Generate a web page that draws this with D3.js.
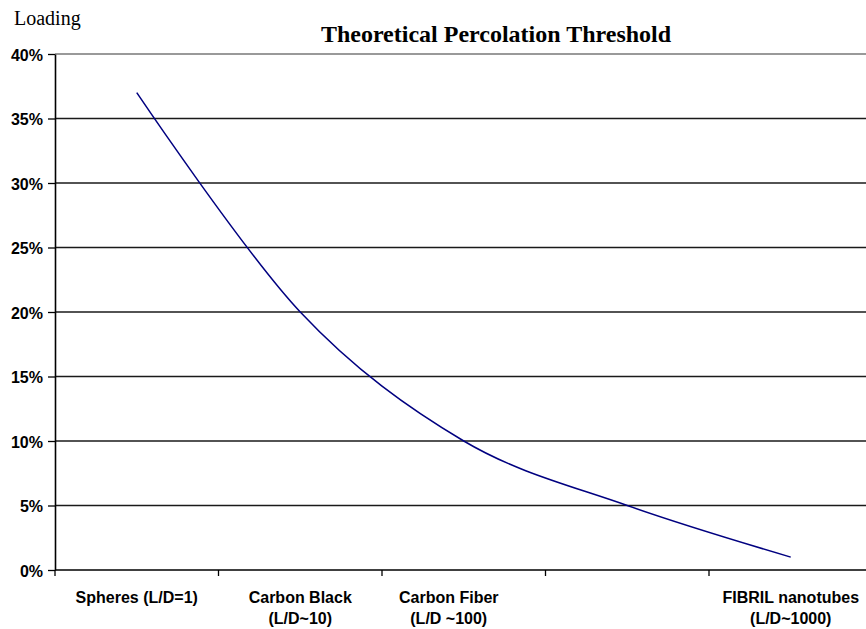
<!DOCTYPE html>
<html>
<head>
<meta charset="utf-8">
<script src="https://cdn.jsdelivr.net/npm/d3@7"></script>
<style>
  body { margin: 0; background: #fff; }
  svg { display: block; }
</style>
</head>
<body>
<div id="chart"></div>
<script>
// Data
const categories = ["Spheres (L/D=1)", "Carbon Black|(L/D~10)", "Carbon Fiber|(L/D ~100)", "", "FIBRIL nanotubes|(L/D~1000)"];
const loading = [0.37, 0.20, 0.10, 0.05, 0.01];
const yTicks = [0, 0.05, 0.10, 0.15, 0.20, 0.25, 0.30, 0.35, 0.40];

// Plot parameters
const w = 866;
const h = 629;
const plotLeft = 55;
const plotTop = 54;
const plotBottom = 570;
const band = 163.5;
const line_color = "#000080";

const svg = d3.select("#chart")
  .append("svg")
  .attr("width", w)
  .attr("height", h);

// Scales
const xScale = d3.scaleBand()
  .domain(d3.range(categories.length))
  .range([plotLeft, plotLeft + band * categories.length]);

const yScale = d3.scaleLinear()
  .domain([0, 0.4])
  .range([plotBottom, plotTop]);

// Gridlines
svg.append("g")
  .selectAll("line")
  .data(yTicks.filter(d => d > 0))
  .enter()
  .append("line")
  .attr("x1", plotLeft)
  .attr("x2", w)
  .attr("y1", d => yScale(d))
  .attr("y2", d => yScale(d))
  .attr("stroke", d => d === 0.4 ? "#777" : "#1a1a1a")
  .attr("stroke-width", 1.6);

// Y axis
const y_axis = d3.axisLeft(yScale)
  .tickValues(yTicks)
  .tickFormat(d3.format(".0%"))
  .tickSize(7)
  .tickSizeOuter(0)
  .tickPadding(5);

const gy = svg.append("g")
  .attr("transform", "translate(" + plotLeft + ",0)")
  .call(y_axis);
gy.select(".domain").attr("stroke", "#000").attr("stroke-width", 1.6);
gy.selectAll(".tick line").attr("stroke", "#000").attr("stroke-width", 1.3);
gy.selectAll("text")
  .attr("font-family", "Liberation Sans, Arial, sans-serif")
  .attr("font-weight", "bold")
  .attr("font-size", 16)
  .attr("dy", "0.4em")
  .attr("fill", "#000");

// X axis (ticks between categories)
const tickPos = d3.range(categories.length + 1).map(i => i < categories.length ? xScale(i) : xScale(i - 1) + xScale.bandwidth());
svg.append("line")
  .attr("x1", plotLeft).attr("x2", w)
  .attr("y1", plotBottom).attr("y2", plotBottom)
  .attr("stroke", "#000").attr("stroke-width", 1.6);
svg.append("g")
  .selectAll("line")
  .data(tickPos)
  .enter()
  .append("line")
  .attr("x1", d => d).attr("x2", d => d)
  .attr("y1", plotBottom).attr("y2", plotBottom + 6)
  .attr("stroke", "#000").attr("stroke-width", 1.3);

const xl = svg.append("g")
  .selectAll("text")
  .data(categories)
  .enter()
  .append("text")
  .attr("x", (d, i) => xScale(i) + xScale.bandwidth() / 2 + (i === 2 ? -15 : 0))
  .attr("y", plotBottom + 33)
  .attr("text-anchor", "middle")
  .attr("font-family", "Liberation Sans, Arial, sans-serif")
  .attr("font-weight", "bold")
  .attr("font-size", 16);
xl.selectAll("tspan")
  .data(d => d.split("|").filter(s => s.length))
  .enter()
  .append("tspan")
  .attr("x", function() { return this.parentNode.getAttribute("x"); })
  .attr("dy", (d, i) => i === 0 ? 0 : 21)
  .text(d => d);

// Line
const line = d3.line()
  .x((d, i) => xScale(i) + xScale.bandwidth() / 2)
  .y(d => yScale(d))
  .curve(d3.curveCardinal);

svg.append("path")
  .datum(loading)
  .attr("d", line)
  .attr("fill", "none")
  .attr("stroke", line_color)
  .attr("stroke-width", 1.5);

// Title & axis label
svg.append("text")
  .attr("x", 496)
  .attr("y", 42)
  .attr("text-anchor", "middle")
  .attr("font-family", "Liberation Serif, Times New Roman, serif")
  .attr("font-weight", "bold")
  .attr("font-size", 24)
  .text("Theoretical Percolation Threshold");

svg.append("text")
  .attr("x", 14)
  .attr("y", 25)
  .attr("font-family", "Liberation Serif, Times New Roman, serif")
  .attr("font-size", 20)
  .text("Loading");
</script>
</body>
</html>
